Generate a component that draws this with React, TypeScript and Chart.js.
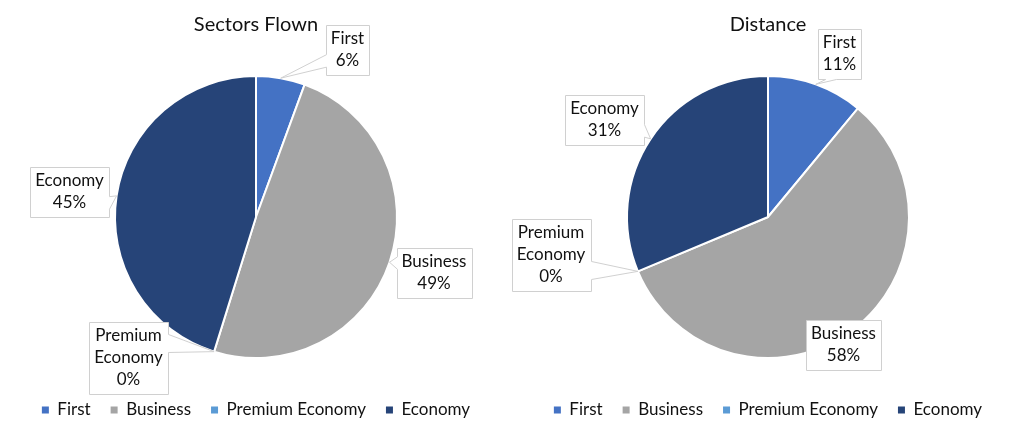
import React, { useEffect, useRef } from "react";
import { Chart, registerables } from "chart.js";

Chart.register(...registerables);

const categories = ["First", "Business", "Premium Economy", "Economy"];
const sectorsFlown = [5.6, 49.2, 0, 45.2];
const distance = [11.0, 57.7, 0, 31.3];
const colors = ["#4472C4", "#A5A5A5", "#5B9BD5", "#264478"];

// callout box centres, relative to the pie centre (layout only)
const sectorsCalloutLayout = [
  [91.5, -167],
  [178, 55.5],
  [-127.5, 141],
  [-186.5, -25.5],
];
const distanceCalloutLayout = [
  [71.5, -163],
  [75.5, 127.5],
  [-217, 37.5],
  [-163.5, -97],
];

const FONT = "Lato, 'Open Sans', sans-serif";
const TEXT_COLOR = "#111111";

function drawCallout(ctx: CanvasRenderingContext2D, bx: number, by: number, w: number, h: number, tip: { x: number; y: number }) {
  const x = Math.round(bx) + 0.5;
  const y = Math.round(by) + 0.5;
  const cx = x + w / 2;
  const cy = y + h / 2;
  const inside = tip.x >= x && tip.x <= x + w && tip.y >= y && tip.y <= y + h;
  const dx = (tip.x - cx) / w;
  const dy = (tip.y - cy) / h;
  let side = "none";
  if (!inside) side = Math.abs(dx) > Math.abs(dy) ? (dx > 0 ? "right" : "left") : dy > 0 ? "bottom" : "top";
  ctx.beginPath();
  ctx.moveTo(x, y);
  if (side === "top") {
    const a = dx < 0 ? [2, 5] : [7, 10];
    ctx.lineTo(x + (w * a[0]) / 12, y);
    ctx.lineTo(tip.x, tip.y);
    ctx.lineTo(x + (w * a[1]) / 12, y);
  }
  ctx.lineTo(x + w, y);
  if (side === "right") {
    const a = dy < 0 ? [2, 5] : [7, 10];
    ctx.lineTo(x + w, y + (h * a[0]) / 12);
    ctx.lineTo(tip.x, tip.y);
    ctx.lineTo(x + w, y + (h * a[1]) / 12);
  }
  ctx.lineTo(x + w, y + h);
  if (side === "bottom") {
    const a = dx < 0 ? [5, 2] : [10, 7];
    ctx.lineTo(x + (w * a[0]) / 12, y + h);
    ctx.lineTo(tip.x, tip.y);
    ctx.lineTo(x + (w * a[1]) / 12, y + h);
  }
  ctx.lineTo(x, y + h);
  if (side === "left") {
    const a = dy < 0 ? [5, 2] : [10, 7];
    ctx.lineTo(x, y + (h * a[0]) / 12);
    ctx.lineTo(tip.x, tip.y);
    ctx.lineTo(x, y + (h * a[1]) / 12);
  }
  ctx.closePath();
  ctx.fillStyle = "#FFFFFF";
  ctx.fill();
  ctx.strokeStyle = "#D0D0D0";
  ctx.lineWidth = 1;
  ctx.stroke();
}

const calloutPlugin = {
  id: "callouts",
  afterDraw(chart: any) {
    const ctx: CanvasRenderingContext2D = chart.ctx;
    const layout: number[][] = chart.options.plugins.callouts.layout;
    const meta = chart.getDatasetMeta(0);
    const values: number[] = chart.data.datasets[0].data;
    const total = values.reduce((s, v) => s + v, 0);
    ctx.save();
    ctx.font = `17px ${FONT}`;
    meta.data.forEach((arc: any, i: number) => {
      const p = arc.getProps(["x", "y", "startAngle", "endAngle", "outerRadius"], true);
      const mid = (p.startAngle + p.endAngle) / 2;
      const tip = { x: p.x + Math.cos(mid) * p.outerRadius, y: p.y + Math.sin(mid) * p.outerRadius };
      const pct = Math.round((values[i] / total) * 100) + "%";
      const lines = String(chart.data.labels[i]).split(" ").concat(pct);
      const tw = Math.max(...lines.map((l) => ctx.measureText(l).width));
      const w = Math.round(tw + 10);
      const h = lines.length * 22 + 6;
      const cx = p.x + layout[i][0];
      const cy = p.y + layout[i][1];
      const bx = cx - w / 2;
      const by = cy - h / 2;
      drawCallout(ctx, bx, by, w, h, tip);
      ctx.fillStyle = TEXT_COLOR;
      ctx.textAlign = "center";
      ctx.textBaseline = "middle";
      lines.forEach((l, k) => {
        ctx.fillText(l, cx, by + 14 + k * 22);
      });
    });
    ctx.restore();
  },
};

function PieChart({ title, values, layout }: { title: string; values: number[]; layout: number[][] }) {
  const ref = useRef<HTMLCanvasElement>(null);
  useEffect(() => {
    if (!ref.current) return;
    const chart = new Chart(ref.current, {
      type: "pie",
      data: {
        labels: categories,
        datasets: [
          {
            data: values,
            backgroundColor: colors,
            borderColor: "#FFFFFF",
            borderWidth: 2,
            radius: 141,
          } as any,
        ],
      },
      options: {
        responsive: false,
        animation: false,
        layout: { padding: { top: 0, bottom: 4.5, left: 0, right: 0 } },
        plugins: {
          title: {
            display: true,
            text: title,
            color: TEXT_COLOR,
            font: { family: FONT, size: 20, weight: "normal" },
            padding: { top: 13, bottom: 15.5 },
          },
          legend: {
            display: true,
            position: "bottom",
            labels: {
              boxWidth: 7,
              boxHeight: 7,
              padding: 20,
              color: TEXT_COLOR,
              font: { family: FONT, size: 17 },
              generateLabels: (c: any) =>
                (Chart as any).overrides.pie.plugins.legend.labels
                  .generateLabels(c)
                  .map((it: any) => ({ ...it, lineWidth: 0, strokeStyle: "transparent" })),
            },
          },
          tooltip: { enabled: false },
          callouts: { layout },
        } as any,
      },
      plugins: [calloutPlugin],
    });
    return () => chart.destroy();
  }, [title, values, layout]);
  return <canvas ref={ref} width={512} height={433} style={{ display: "block", width: 512, height: 433 }} />;
}

export default function App() {
  return (
    <div style={{ position: "absolute", left: 0, top: 0, width: 1024, height: 433, display: "flex", background: "#FFFFFF" }}>
      <PieChart title="Sectors Flown" values={sectorsFlown} layout={sectorsCalloutLayout} />
      <PieChart title="Distance" values={distance} layout={distanceCalloutLayout} />
    </div>
  );
}
